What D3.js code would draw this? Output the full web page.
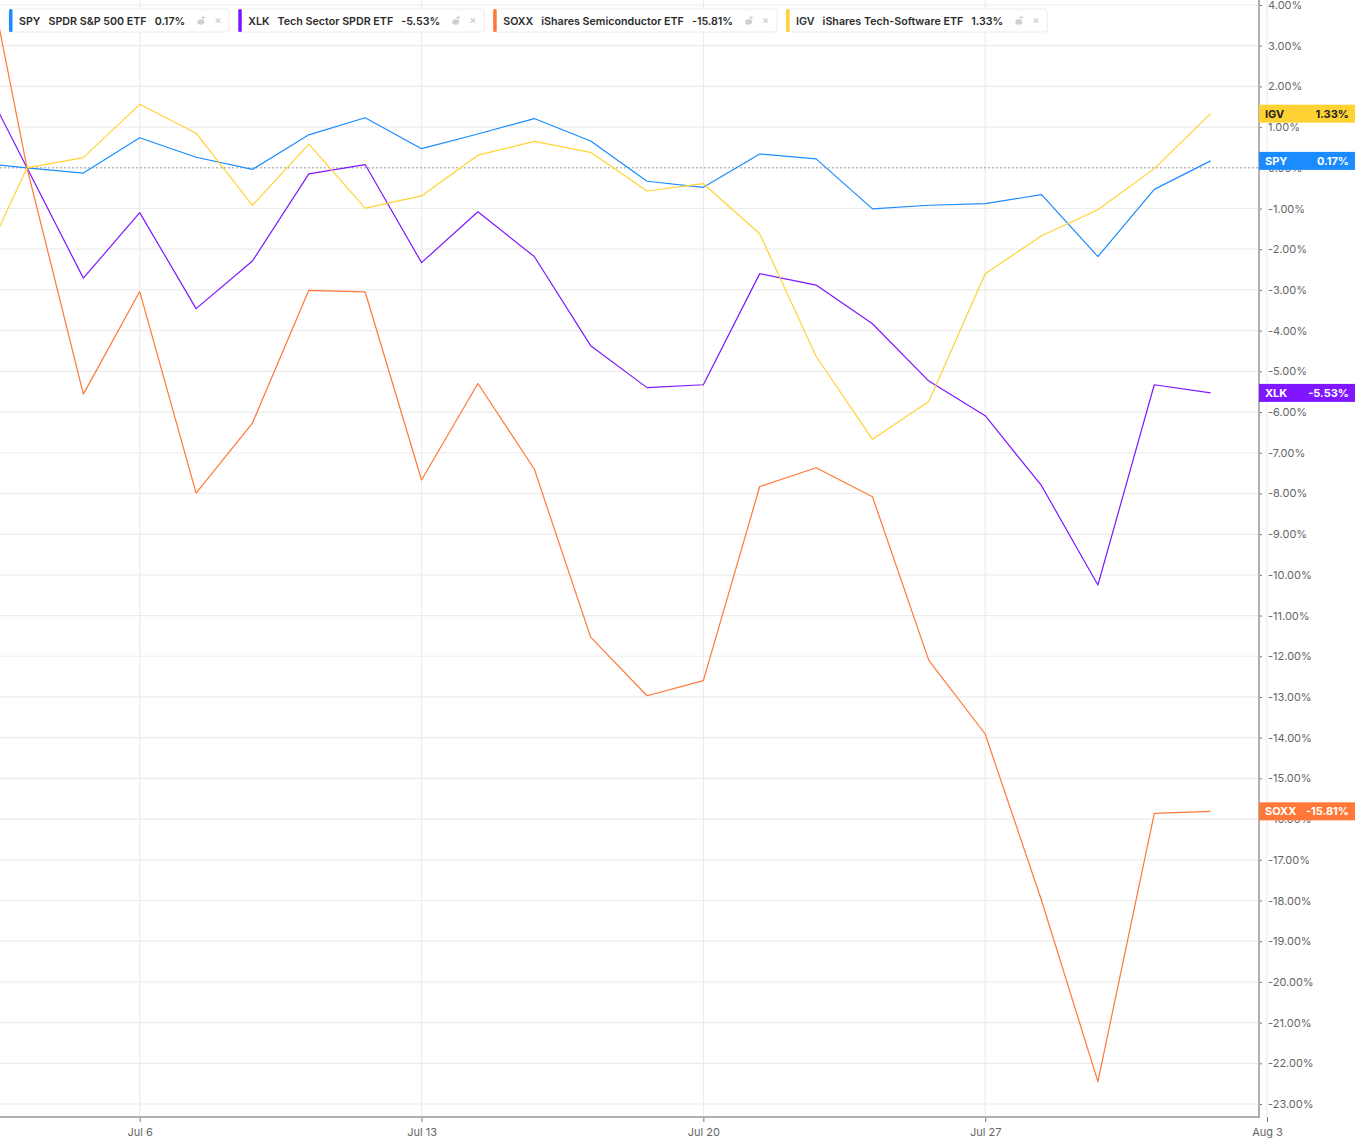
<!DOCTYPE html>
<html>
<head>
<meta charset="utf-8">
<script src="https://cdn.jsdelivr.net/npm/d3@7"></script>
<style>
  html, body { margin: 0; padding: 0; background: #fff; }
  svg { display: block; font-family: "Inter", "Noto Sans", sans-serif; }
</style>
</head>
<body>
<svg id="chart" width="1355" height="1146"></svg>
<script>
// trading days, Jun 30 is just off the left edge
const dates = ["Jun 30", "Jul 1", "Jul 2", "Jul 6", "Jul 7", "Jul 8", "Jul 9", "Jul 10",
  "Jul 13", "Jul 14", "Jul 15", "Jul 16", "Jul 17", "Jul 20", "Jul 21", "Jul 22", "Jul 23",
  "Jul 24", "Jul 27", "Jul 28", "Jul 29", "Jul 30", "Jul 31"];

const tickIndex = [3, 8, 13, 18, 23];
const tickLabels = ["Jul 6", "Jul 13", "Jul 20", "Jul 27", "Aug 3"];

const spy = [0.14, 0, -0.13, 0.74, 0.26, -0.04, 0.81, 1.23, 0.47, 0.83, 1.21, 0.66,
  -0.33, -0.48, 0.34, 0.22, -1.01, -0.92, -0.88, -0.66, -2.18, -0.53, 0.17];
const xlk = [2.72, 0, -2.71, -1.10, -3.46, -2.29, -0.15, 0.08, -2.33, -1.08, -2.18, -4.37,
  -5.40, -5.33, -2.60, -2.88, -3.83, -5.24, -6.09, -7.81, -10.25, -5.33, -5.53];
const soxx = [7.0, 0, -5.56, -3.04, -7.99, -6.27, -3.01, -3.05, -7.67, -5.30, -7.40, -11.53,
  -12.97, -12.60, -7.83, -7.37, -8.08, -12.10, -13.91, -18.0, -22.45, -15.86, -15.81];
const igv = [-2.98, 0, 0.25, 1.56, 0.85, -0.92, 0.58, -0.99, -0.69, 0.31, 0.65, 0.38,
  -0.57, -0.39, -1.62, -4.63, -6.67, -5.74, -2.60, -1.67, -1.03, -0.02, 1.33];

const tickers = ["SPY", "XLK", "SOXX", "IGV"];
const names = ["SPDR S&P 500 ETF", "Tech Sector SPDR ETF", "iShares Semiconductor ETF", "iShares Tech-Software ETF"];
const colors = ["#1a8cff", "#7f16ff", "#ff7838", "#ffd234"];
const seriesValues = [spy, xlk, soxx, igv];

const series = tickers.map((t, k) => ({
  ticker: t, name: names[k], color: colors[k], values: seriesValues[k],
  last: seriesValues[k][seriesValues[k].length - 1]
}));

const svg = d3.select("#chart");
const plotRight = 1259, plotBottom = 1117;

const x = d3.scaleLinear().domain([1, 23]).range([27, 1267]);
const y = d3.scaleLinear().domain([-23, 4]).range([1104, 5]);
// plain hyphen like the original, not the unicode minus d3 gives
const pct = d => d3.format(".2f")(d).replace("\u2212", "-") + "%";

svg.append("defs").append("clipPath").attr("id", "plot")
  .append("rect").attr("x", 0).attr("y", 0).attr("width", plotRight).attr("height", plotBottom);

// grid
const grid = svg.append("g");
grid.selectAll("line.h")
  .data(y.ticks(27).filter(d => d !== 0))
  .join("line")
  .attr("x1", 0).attr("x2", plotRight)
  .attr("y1", d => y(d)).attr("y2", d => y(d))
  .attr("stroke", "#ececec").attr("stroke-width", 1.2);

grid.selectAll("line.v")
  .data(tickIndex)
  .join("line")
  .attr("x1", d => x(d)).attr("x2", d => x(d))
  .attr("y1", 0).attr("y2", plotBottom)
  .attr("stroke", "#ececec").attr("stroke-width", 1.2);

grid.append("line")
  .attr("x1", 0).attr("x2", plotRight)
  .attr("y1", y(0)).attr("y2", y(0))
  .attr("stroke", "#999").attr("stroke-width", 1)
  .attr("stroke-dasharray", "2,2");

// lines
const line = d3.line()
  .x((d, i) => x(i))
  .y(d => y(d));

svg.append("g")
  .attr("clip-path", "url(#plot)")
  .selectAll("path")
  .data(series)
  .join("path")
  .attr("d", d => line(d.values))
  .attr("fill", "none")
  .attr("stroke", d => d.color)
  .attr("stroke-width", 1.2)
  .attr("stroke-linejoin", "round");

// axes
const yAxis = svg.append("g")
  .attr("transform", `translate(${plotRight},0)`)
  .call(d3.axisRight(y).ticks(27).tickFormat(pct).tickSize(3).tickPadding(6));
yAxis.select(".domain").remove();
yAxis.selectAll(".tick line").attr("stroke", "#777");
yAxis.selectAll(".tick text")
  .attr("fill", "#666").style("font-size", "11px").style("font-family", "Inter, sans-serif");

const xAxis = svg.append("g")
  .attr("transform", `translate(0,${plotBottom})`)
  .call(d3.axisBottom(x).tickValues(tickIndex)
    .tickFormat((d, i) => tickLabels[i]).tickSize(5).tickPadding(6));
xAxis.select(".domain").remove();
xAxis.selectAll(".tick line").attr("stroke", "#777");
xAxis.selectAll(".tick text")
  .attr("fill", "#666").style("font-size", "11px").style("font-family", "Inter, sans-serif");

svg.append("line")
  .attr("x1", 0).attr("x2", plotRight + 1)
  .attr("y1", plotBottom).attr("y2", plotBottom)
  .attr("stroke", "#b0b0b0").attr("stroke-width", 2);
svg.append("line")
  .attr("x1", plotRight).attr("x2", plotRight)
  .attr("y1", 0).attr("y2", plotBottom + 1)
  .attr("stroke", "#b0b0b0").attr("stroke-width", 2);

// last value tags on the right axis
const tags = svg.append("g")
  .selectAll("g")
  .data(series)
  .join("g")
  .attr("transform", d => `translate(${plotRight},${y(d.last)})`);

tags.append("rect")
  .attr("x", 0).attr("y", -9).attr("width", 1355 - plotRight).attr("height", 18)
  .attr("fill", d => d.color);
tags.append("text")
  .attr("x", 6).attr("y", 4)
  .attr("fill", d => d.ticker === "IGV" ? "#222" : "#fff")
  .style("font-size", "11px").style("font-weight", 700)
  .text(d => d.ticker);
tags.append("text")
  .attr("x", 1349 - plotRight).attr("y", 4)
  .attr("text-anchor", "end")
  .attr("fill", d => d.ticker === "IGV" ? "#222" : "#fff")
  .style("font-size", "11px").style("font-weight", 700)
  .text(d => pct(d.last));

// legend chips
const legend = svg.append("g");
let cx = 9;
series.forEach(s => {
  const chip = legend.append("g").attr("transform", `translate(${cx},9)`);
  const bg = chip.append("rect")
    .attr("y", 0).attr("height", 23).attr("rx", 3)
    .attr("fill", "#fff").attr("stroke", "#ececec");
  chip.append("rect")
    .attr("x", 0).attr("y", 0).attr("width", 3.5).attr("height", 23).attr("rx", 1.5)
    .attr("fill", s.color);

  let tx = 10;
  [[s.ticker, 8], [s.name, 8], [pct(s.last), 12]].forEach(([str, gap]) => {
    const t = chip.append("text")
      .attr("x", tx).attr("y", 15.5)
      .attr("fill", "#2b2b2b")
      .style("font-size", "10.7px").style("font-weight", 600)
      .text(str);
    tx += t.node().getComputedTextLength() + gap;
  });

  // small grey icon and close mark
  const ic = chip.append("g").attr("transform", `translate(${tx},11.5)`).attr("fill", "#d0d0d0");
  ic.append("ellipse").attr("cx", 3.5).attr("cy", 1.5).attr("rx", 3.5).attr("ry", 2.8);
  ic.append("rect").attr("x", 5.5).attr("y", -5).attr("width", 1).attr("height", 4);
  ic.append("rect").attr("x", 4).attr("y", -3.5).attr("width", 4).attr("height", 1);
  tx += 17;
  chip.append("text")
    .attr("x", tx).attr("y", 15)
    .attr("fill", "#c4c4c4")
    .style("font-size", "11px")
    .text("×");
  tx += 15;

  bg.attr("width", tx);
  cx += tx + 9;
});
</script>
</body>
</html>
